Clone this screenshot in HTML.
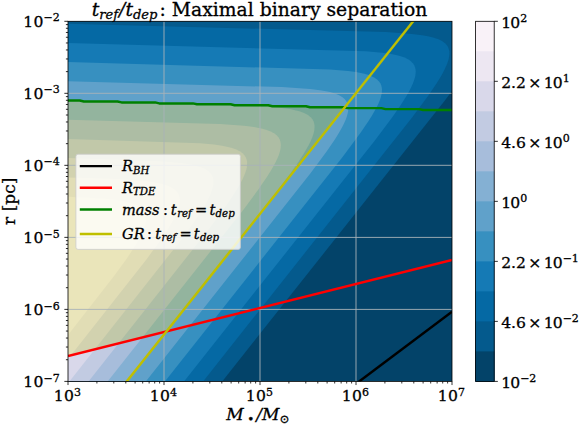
<!DOCTYPE html>
<html><head><meta charset="utf-8"><title>plot</title>
<style>html,body{margin:0;padding:0;background:#fff}svg{display:block}text{font-family:"DejaVu Serif","Liberation Serif",serif;fill:#000;stroke:#000;stroke-width:0.3px}.m{font-style:italic}</style></head><body>
<svg width="583" height="425" viewBox="0 0 583 425">
<rect width="583" height="425" fill="#fff"/>
<defs><clipPath id="ax"><rect x="68.0" y="21.3" width="384.0" height="360.09999999999997"/></clipPath></defs>
<g clip-path="url(#ax)">
<rect x="68.0" y="21.3" width="384.0" height="360.09999999999997" fill="#034369"/>
<path d="M68,381.4 222.2,381.4 444.3,101.3 452,91.1 452,21.3 68,21.3 68,381.4Z" fill="#045a8d"/>
<path d="M68,381.4 203.1,381.4 412.3,117.3 428.6,95.3 436.7,83.3 440.4,77.3 442.7,73.3 444.7,69.3 446.5,65.3 447.3,63.3 448,61.3 448.6,59.3 449,57.3 449.3,55.3 449.4,53.3 449.3,51.3 448.8,49.3 448,47.1 446.9,45.3 446,44.3 445,43.3 444,42.5 442,41.1 440,40 438,39.1 436,38.4 432,37.2 428,36.3 422,35.2 412,33.9 386,32.1 68,23.7 68,381.4Z" fill="#0569a4"/>
<path d="M68,381.4 184,381.4 374.3,141.3 392.3,117.3 400.6,105.3 406,96.8 409.2,91.3 411.2,87.3 413,83.3 414.4,79.3 415,77.3 415.4,75.3 415.6,73.3 415.7,71.3 415.5,69.3 415,67.3 414.2,65.3 412.9,63.3 412,62.4 410.9,61.3 410,60.6 408,59.3 406,58.3 403.8,57.3 400,56 396,55 390,53.8 382,52.7 366,51.3 68,42.9 68,381.4Z" fill="#157ab5"/>
<path d="M68,381.4 164.9,381.4 342.4,157.3 360.2,133.3 368.4,121.3 372.2,115.3 376.7,107.3 378.6,103.3 380.2,99.3 380.8,97.3 381.3,95.3 381.7,93.3 381.9,91.3 382,89.3 381.7,87.3 381.2,85.3 380.3,83.3 378.8,81.3 378,80.5 376.7,79.3 376,78.8 373.6,77.3 372,76.5 369.1,75.3 366,74.3 362,73.3 356,72.1 348,71 330,69.5 68,62.1 68,381.4Z" fill="#3790c0"/>
<path d="M68,381.4 145.8,381.4 310.5,173.3 326.8,151.3 335,139.3 338.7,133.3 342.1,127.3 344.1,123.3 346,118.9 346.6,117.3 347.2,115.3 347.7,113.3 348.1,111.3 348.2,109.3 348.2,107.3 347.9,105.3 347.3,103.3 346.3,101.3 344.8,99.3 344,98.6 342.5,97.3 340,95.7 338,94.8 336,93.9 334,93.2 330,92.1 326,91.2 320,90.2 310,88.9 282,87.1 68,81.3 68,381.4Z" fill="#60a1ca"/>
<path d="M68,381.4 126.7,381.4 274,195.3 290.5,173.3 298.9,161.3 304,153.3 308.6,145.3 310.6,141.3 312.3,137.3 313,135.3 313.6,133.3 314.1,131.3 314.4,129.3 314.5,127.3 314.5,125.3 314.1,123.3 313.5,121.3 312.4,119.3 310.7,117.3 310,116.7 308,115.1 306,114 304,113 302,112.2 299.5,111.3 296,110.4 290,109.1 282,107.9 268,106.6 68,100.5 68,381.4Z" fill="#84b0d3"/>
<path d="M68,381.4 107.6,381.4 242.1,211.4 258.5,189.3 266.7,177.3 270.5,171.3 274,165.3 276.1,161.3 278,157.1 278.7,155.3 279.4,153.3 280,151.2 280.4,149.3 280.7,147.3 280.8,145.3 280.7,143.3 280.3,141.3 279.6,139.3 278.4,137.3 276.6,135.3 276,134.8 274,133.3 272,132.2 270,131.2 268,130.5 264,129.2 260,128.2 254,127.1 244,125.8 220,124.1 68,119.7 68,381.4Z" fill="#a7bddb"/>
<path d="M68,381.4 88.5,381.4 210.2,227.4 226.4,205.4 234.5,193.3 238.2,187.3 240.5,183.3 242.5,179.3 244.3,175.3 245.1,173.3 246.4,169.3 246.8,167.3 247,165.3 247.1,163.3 247,161.3 246.5,159.3 245.7,157.3 244.4,155.3 242.5,153.3 239.7,151.3 238,150.4 235.6,149.3 232,148.1 228,147 222,145.8 214,144.6 200,143.3 68,138.9 68,381.4Z" fill="#c2cbe2"/>
<path d="M68,381.4 69.4,381.4 178.3,243.4 194.4,221.4 201.1,211.4 204.7,205.4 207,201.3 209,197.3 210.8,193.3 211.5,191.3 212.2,189.3 212.7,187.3 213.1,185.3 213.4,183.3 213.4,181.3 213.2,179.3 212.7,177.3 211.8,175.3 210.4,173.3 208.4,171.3 205.4,169.3 204,168.6 201,167.3 198,166.4 194,165.3 188,164.1 180,162.9 164,161.5 68,158.1 68,381.4Z" fill="#d9d8ea"/>
<path d="M68,357.4 68,359.1 146.4,259.4 158.1,243.4 166.3,231.4 170,225.4 173.5,219.4 175.5,215.4 177.2,211.4 178,209.2 178.6,207.4 179.1,205.4 179.5,203.4 179.7,201.3 179.7,199.3 179.4,197.3 178.8,195.3 177.9,193.3 176.4,191.3 174,189.2 172,187.9 170,186.9 168,186 166,185.3 162,184.1 158,183.2 152,182.1 142,180.8 116,179.1 68,177.4 68,357.4Z" fill="#ede7f2"/>
<path d="M68,333.4 68,335 114.4,275.4 126.1,259.4 132.8,249.4 136.5,243.4 140,237.2 142,233.2 143.6,229.4 144.4,227.4 145,225.4 145.5,223.4 145.8,221.4 146,219.4 145.9,217.4 145.6,215.4 145,213.4 143.9,211.4 142.3,209.4 140,207.4 138,206.1 136,205.1 134,204.3 131.4,203.4 128,202.4 123.4,201.3 116,200.1 104,198.8 68,196.8 68,333.4Z" fill="#f9f2f8"/>
<path d="M68.0,356.0 68.0,100.5 79.8,100.5 83.8,101.5 117.5,101.5 121.5,102.4 155.2,102.4 159.2,103.4 192.9,103.4 196.9,104.3 230.6,104.3 234.6,105.3 268.3,105.3 272.3,106.2 306.0,106.2 310.0,107.2 343.7,107.2 344.7,107.4 166.5,331.4Z" fill="#bfbf00" fill-opacity="0.25"/>
<line x1="164.0" x2="164.0" y1="21.3" y2="381.4" stroke="#a9b2b8" stroke-width="0.9"/>
<line x1="260.0" x2="260.0" y1="21.3" y2="381.4" stroke="#a9b2b8" stroke-width="0.9"/>
<line x1="356.0" x2="356.0" y1="21.3" y2="381.4" stroke="#a9b2b8" stroke-width="0.9"/>
<line y1="309.4" y2="309.4" x1="68.0" x2="452.0" stroke="#a9b2b8" stroke-width="0.9"/>
<line y1="237.4" y2="237.4" x1="68.0" x2="452.0" stroke="#a9b2b8" stroke-width="0.9"/>
<line y1="165.3" y2="165.3" x1="68.0" x2="452.0" stroke="#a9b2b8" stroke-width="0.9"/>
<line y1="93.3" y2="93.3" x1="68.0" x2="452.0" stroke="#a9b2b8" stroke-width="0.9"/>
<path d="M68.0,599.9L452.0,311.8" stroke="#000" stroke-width="2.45" fill="none"/>
<path d="M68.0,356.0L452.0,260.0" stroke="#f00" stroke-width="2.45" fill="none"/>
<path d="M68.0,100.5 79.8,100.5 83.8,101.5 117.5,101.5 121.5,102.4 155.2,102.4 159.2,103.4 192.9,103.4 196.9,104.3 230.6,104.3 234.6,105.3 268.3,105.3 272.3,106.2 306.0,106.2 310.0,107.2 343.7,107.2 347.7,108.1 381.4,108.1 385.4,109.1 419.1,109.1 423.1,110.0 452.0,110.0" stroke="#008000" stroke-width="2.45" fill="none" stroke-linejoin="round"/>
<path d="M68.0,455.2L452.0,-27.5" stroke="#bfbf00" stroke-width="2.45" fill="none"/>
</g>
<path d="M68.00,381.4v3.65M96.90,381.4v2.1M113.80,381.4v2.1M125.80,381.4v2.1M135.10,381.4v2.1M142.70,381.4v2.1M149.13,381.4v2.1M154.70,381.4v2.1M159.61,381.4v2.1M164.00,381.4v3.65M192.90,381.4v2.1M209.80,381.4v2.1M221.80,381.4v2.1M231.10,381.4v2.1M238.70,381.4v2.1M245.13,381.4v2.1M250.70,381.4v2.1M255.61,381.4v2.1M260.00,381.4v3.65M288.90,381.4v2.1M305.80,381.4v2.1M317.80,381.4v2.1M327.10,381.4v2.1M334.70,381.4v2.1M341.13,381.4v2.1M346.70,381.4v2.1M351.61,381.4v2.1M356.00,381.4v3.65M384.90,381.4v2.1M401.80,381.4v2.1M413.80,381.4v2.1M423.10,381.4v2.1M430.70,381.4v2.1M437.13,381.4v2.1M442.70,381.4v2.1M447.61,381.4v2.1M452.00,381.4v3.65" stroke="#000" stroke-width="0.8" fill="none"/>
<path d="M68.0,381.40h-3.65M68.0,359.72h-2.1M68.0,347.04h-2.1M68.0,338.04h-2.1M68.0,331.06h-2.1M68.0,325.36h-2.1M68.0,320.54h-2.1M68.0,316.36h-2.1M68.0,312.68h-2.1M68.0,309.38h-3.65M68.0,287.70h-2.1M68.0,275.02h-2.1M68.0,266.02h-2.1M68.0,259.04h-2.1M68.0,253.34h-2.1M68.0,248.52h-2.1M68.0,244.34h-2.1M68.0,240.66h-2.1M68.0,237.36h-3.65M68.0,215.68h-2.1M68.0,203.00h-2.1M68.0,194.00h-2.1M68.0,187.02h-2.1M68.0,181.32h-2.1M68.0,176.50h-2.1M68.0,172.32h-2.1M68.0,168.64h-2.1M68.0,165.34h-3.65M68.0,143.66h-2.1M68.0,130.98h-2.1M68.0,121.98h-2.1M68.0,115.00h-2.1M68.0,109.30h-2.1M68.0,104.48h-2.1M68.0,100.30h-2.1M68.0,96.62h-2.1M68.0,93.32h-3.65M68.0,71.64h-2.1M68.0,58.96h-2.1M68.0,49.96h-2.1M68.0,42.98h-2.1M68.0,37.28h-2.1M68.0,32.46h-2.1M68.0,28.28h-2.1M68.0,24.60h-2.1M68.0,21.30h-3.65" stroke="#000" stroke-width="0.83" fill="none"/>
<rect x="68.0" y="21.3" width="384.0" height="360.09999999999997" fill="none" stroke="#000" stroke-width="0.8"/>
<rect x="475.6" y="21.30" width="18.6" height="360.10" fill="#f9f2f8"/>
<rect x="475.6" y="51.31" width="18.6" height="330.09" fill="#ede7f2"/>
<rect x="475.6" y="81.32" width="18.6" height="300.08" fill="#d9d8ea"/>
<rect x="475.6" y="111.32" width="18.6" height="270.07" fill="#c2cbe2"/>
<rect x="475.6" y="141.33" width="18.6" height="240.07" fill="#a7bddb"/>
<rect x="475.6" y="171.34" width="18.6" height="210.06" fill="#84b0d3"/>
<rect x="475.6" y="201.35" width="18.6" height="180.05" fill="#60a1ca"/>
<rect x="475.6" y="231.36" width="18.6" height="150.04" fill="#3790c0"/>
<rect x="475.6" y="261.37" width="18.6" height="120.03" fill="#157ab5"/>
<rect x="475.6" y="291.38" width="18.6" height="90.02" fill="#0569a4"/>
<rect x="475.6" y="321.38" width="18.6" height="60.02" fill="#045a8d"/>
<rect x="475.6" y="351.39" width="18.6" height="30.01" fill="#034369"/>
<rect x="475.6" y="21.3" width="18.6" height="360.09999999999997" fill="none" stroke="#000" stroke-width="0.8"/>
<path d="M494.2,381.40h3.65M494.2,321.38h3.65M494.2,261.37h3.65M494.2,201.35h3.65M494.2,141.33h3.65M494.2,81.32h3.65M494.2,21.30h3.65" stroke="#000" stroke-width="0.8" fill="none"/>
<text x="59.7" y="387.0" font-size="15.6" text-anchor="end">1<tspan dx="0.3">0</tspan><tspan dy="-5.5" font-size="11.0">−7</tspan></text>
<text x="59.7" y="315.0" font-size="15.6" text-anchor="end">1<tspan dx="0.3">0</tspan><tspan dy="-5.5" font-size="11.0">−6</tspan></text>
<text x="59.7" y="243.0" font-size="15.6" text-anchor="end">1<tspan dx="0.3">0</tspan><tspan dy="-5.5" font-size="11.0">−5</tspan></text>
<text x="59.7" y="170.9" font-size="15.6" text-anchor="end">1<tspan dx="0.3">0</tspan><tspan dy="-5.5" font-size="11.0">−4</tspan></text>
<text x="59.7" y="98.9" font-size="15.6" text-anchor="end">1<tspan dx="0.3">0</tspan><tspan dy="-5.5" font-size="11.0">−3</tspan></text>
<text x="59.7" y="26.9" font-size="15.6" text-anchor="end">1<tspan dx="0.3">0</tspan><tspan dy="-5.5" font-size="11.0">−2</tspan></text>
<text x="67.4" y="401.2" font-size="15.6" text-anchor="middle">1<tspan dx="0.3">0</tspan><tspan dy="-5.5" font-size="11.0">3</tspan></text>
<text x="163.4" y="401.2" font-size="15.6" text-anchor="middle">1<tspan dx="0.3">0</tspan><tspan dy="-5.5" font-size="11.0">4</tspan></text>
<text x="259.4" y="401.2" font-size="15.6" text-anchor="middle">1<tspan dx="0.3">0</tspan><tspan dy="-5.5" font-size="11.0">5</tspan></text>
<text x="355.4" y="401.2" font-size="15.6" text-anchor="middle">1<tspan dx="0.3">0</tspan><tspan dy="-5.5" font-size="11.0">6</tspan></text>
<text x="451.4" y="401.2" font-size="15.6" text-anchor="middle">1<tspan dx="0.3">0</tspan><tspan dy="-5.5" font-size="11.0">7</tspan></text>
<text x="501.2" y="387.7" font-size="15.6">1<tspan dx="-0.9">0</tspan><tspan dy="-5.5" font-size="11.0">−2</tspan></text>
<text x="501.2" y="327.7" font-size="15.6">4.6<tspan dx="2.2">×</tspan><tspan dx="2.4">1</tspan><tspan dx="-0.9">0</tspan><tspan dy="-5.5" font-size="11.0">−2</tspan></text>
<text x="501.2" y="267.7" font-size="15.6">2.2<tspan dx="2.2">×</tspan><tspan dx="2.4">1</tspan><tspan dx="-0.9">0</tspan><tspan dy="-5.5" font-size="11.0">−1</tspan></text>
<text x="501.2" y="207.7" font-size="15.6">1<tspan dx="-0.9">0</tspan><tspan dy="-5.5" font-size="11.0">0</tspan></text>
<text x="501.2" y="147.6" font-size="15.6">4.6<tspan dx="2.2">×</tspan><tspan dx="2.4">1</tspan><tspan dx="-0.9">0</tspan><tspan dy="-5.5" font-size="11.0">0</tspan></text>
<text x="501.2" y="87.6" font-size="15.6">2.2<tspan dx="2.2">×</tspan><tspan dx="2.4">1</tspan><tspan dx="-0.9">0</tspan><tspan dy="-5.5" font-size="11.0">1</tspan></text>
<text x="501.2" y="27.6" font-size="15.6">1<tspan dx="-0.9">0</tspan><tspan dy="-5.5" font-size="11.0">2</tspan></text>
<text x="91.7" y="15.9" font-size="18.75" xml:space="preserve"><tspan class="m">t</tspan><tspan class="m" dy="2.9" font-size="13.1">ref</tspan><tspan class="m" dy="-2.9" dx="1.0">/t</tspan><tspan class="m" dy="2.9" font-size="13.1">dep</tspan><tspan dy="-2.9" dx="2.1">: Maximal binary separation</tspan></text>
<text transform="translate(15.0,201.3) rotate(-90)" font-size="17" text-anchor="middle">r [pc]</text>
<text font-size="17" class="m" xml:space="preserve"><tspan x="226.3" y="420.3">M</tspan><tspan x="247.3" y="422.90000000000003" font-size="11.9" font-style="normal">•</tspan><tspan x="256.3" y="420.3">/</tspan><tspan x="262.0" y="420.3">M</tspan><tspan x="279.6" y="422.90000000000003" font-size="11.9" font-style="normal">⊙</tspan></text>
<rect x="75.9" y="154.2" width="164.5" height="95.2" rx="2.2" fill="#fff" fill-opacity="0.8" stroke="#ccc" stroke-opacity="0.8" stroke-width="1"/>
<line x1="79.8" x2="112" y1="166.1" y2="166.1" stroke="#000" stroke-width="2.45"/>
<line x1="79.8" x2="112" y1="187.8" y2="187.8" stroke="#f00" stroke-width="2.45"/>
<line x1="79.8" x2="112" y1="209.4" y2="209.4" stroke="#008000" stroke-width="2.45"/>
<line x1="79.8" x2="112" y1="233.9" y2="233.9" stroke="#bfbf00" stroke-width="2.45"/>
<text class="m" x="122.0" y="171.2" font-size="14.58">R<tspan dy="2.4" font-size="10.206">BH</tspan></text>
<text class="m" x="122.0" y="192.9" font-size="14.58">R<tspan dy="2.4" font-size="10.206">TDE</tspan></text>
<text class="m" font-size="14.58" xml:space="preserve"><tspan x="122.0" y="214.5">mass</tspan><tspan x="163.0" y="214.5" font-style="normal">:</tspan><tspan x="170.8" y="214.5">t</tspan><tspan x="177.2" y="217.2" font-size="10.206">ref</tspan><tspan x="195.0" y="214.5" font-style="normal">=</tspan><tspan x="209.4" y="214.5">t</tspan><tspan x="215.6" y="217.2" font-size="10.206">dep</tspan></text>
<text class="m" font-size="14.58" xml:space="preserve"><tspan x="122.0" y="238.5">GR</tspan><tspan x="147.0" y="238.5" font-style="normal">:</tspan><tspan x="155.2" y="238.5">t</tspan><tspan x="161.6" y="241.2" font-size="10.206">ref</tspan><tspan x="179.4" y="238.5" font-style="normal">=</tspan><tspan x="193.8" y="238.5">t</tspan><tspan x="200.0" y="241.2" font-size="10.206">dep</tspan></text>
</svg>
</body></html>
